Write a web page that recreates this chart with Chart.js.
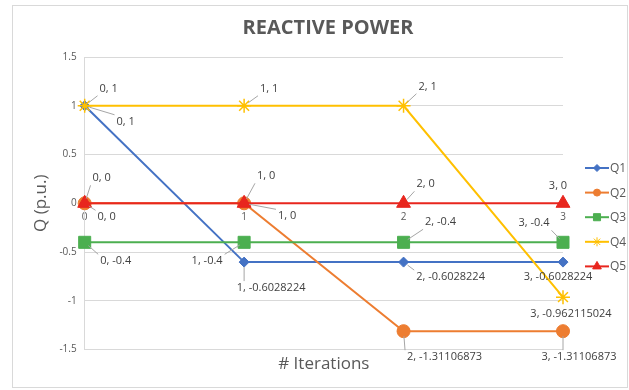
<!DOCTYPE html>
<html>
<head>
<meta charset="utf-8">
<script src="https://cdn.jsdelivr.net/npm/chart.js@4.4.0/dist/chart.umd.min.js"></script>
<style>
  html, body { margin: 0; padding: 0; background: #fff; }
</style>
</head>
<body>
<canvas id="chart" width="629" height="390"></canvas>
<script>
// values
var iterations = [0, 1, 2, 3];
var q1 = [1, -0.6028224, -0.6028224, -0.6028224];
var q2 = [0, 0, -1.31106873, -1.31106873];
var q3 = [-0.4, -0.4, -0.4, -0.4];
var q4 = [1, 1, 1, -0.962115024];
var q5 = [0, 0, 0, 0];
var seriesNames = ['Q1', 'Q2', 'Q3', 'Q4', 'Q5'];
var yTicks = [-1.5, -1, -0.5, 0, 0.5, 1, 1.5];

// styles
var colors = ['#4472C4', '#ED7D31', '#4CAF50', '#FFC000', '#E8261E'];
var markers = ['rectRot', 'circle', 'rect', 'star', 'triangle'];
var markerSize = [5, 6.5, 8.5, 7, 8];
var legendMarkerSize = [3.5, 3.5, 5, 4.5, 5];
// where each data label sits, relative to its point (px)
var labelOffsets = [
  [[41, 16], [27, 26], [47, 15], [-5, 15]],
  [[22, 14], [43, 13], [41, 26], [16, 26]],
  [[31, 19], [-37, 19], [37, -20], [-29, -19]],
  [[24, -17], [25, -17], [24, -19], [8, 17]],
  [[17, -25], [22, -27], [22, -19], [-5, -17]]
];

var seriesValues = [q1, q2, q3, q4, q5];

function makeData(ys) {
  return iterations.map(function (x, i) { return {x: x, y: ys[i]}; });
}

var datasets = seriesValues.map(function (ys, i) {
  return {
    label: seriesNames[i],
    data: makeData(ys),
    xAxisID: 'x',
    yAxisID: 'y',
    borderColor: colors[i],
    backgroundColor: colors[i],
    borderWidth: 2,
    pointStyle: markers[i],
    pointRadius: markerSize[i],
    pointHoverRadius: markerSize[i],
    pointBorderWidth: markers[i] === 'star' ? 1.5 : 1,
    pointBackgroundColor: colors[i],
    pointBorderColor: colors[i],
    tension: 0,
    clip: false,
    order: seriesValues.length - 1 - i
  };
});

var sheetFrame = {
  id: 'sheetFrame',
  beforeDraw: function (chart) {
    var ctx = chart.ctx;
    ctx.save();
    ctx.fillStyle = '#fff';
    ctx.fillRect(0, 0, chart.width, chart.height);
    ctx.strokeStyle = '#D9D9D9';
    ctx.lineWidth = 1;
    ctx.strokeRect(12.5, 5.5, chart.width - 14, chart.height - 8);
    ctx.restore();
  }
};

var pointLabels = {
  id: 'pointLabels',
  afterDatasetsDraw: function (chart) {
    var ctx = chart.ctx;
    ctx.save();
    ctx.font = '11px "Open Sans"';
    ctx.textAlign = 'center';
    ctx.textBaseline = 'middle';
    chart.data.datasets.forEach(function (ds, di) {
      var meta = chart.getDatasetMeta(di);
      meta.data.forEach(function (pt, i) {
        var raw = ds.data[i];
        var text = raw.x + ', ' + raw.y;
        var off = labelOffsets[di][i];
        var cx = pt.x + off[0], cy = pt.y + off[1];
        var w = ctx.measureText(text).width;
        var l = cx - w / 2 - 2, r = cx + w / 2 + 2, t = cy - 7, b = cy + 7;
        var nx = Math.max(l, Math.min(pt.x, r));
        var ny = Math.max(t, Math.min(pt.y, b));
        var dx = nx - pt.x, dy = ny - pt.y;
        var d = Math.sqrt(dx * dx + dy * dy);
        if (d > 10) {
          ctx.strokeStyle = '#A6A6A6';
          ctx.lineWidth = 1;
          ctx.beginPath();
          ctx.moveTo(pt.x + dx / d * 5, pt.y + dy / d * 5);
          ctx.lineTo(nx, ny);
          ctx.stroke();
        }
        ctx.fillStyle = '#404040';
        ctx.fillText(text, cx, cy);
      });
    });
    ctx.restore();
  }
};

var sideLegend = {
  id: 'sideLegend',
  afterDraw: function (chart) {
    var ctx = chart.ctx;
    ctx.save();
    ctx.font = '12px "Open Sans"';
    ctx.textAlign = 'left';
    ctx.textBaseline = 'middle';
    chart.data.datasets.forEach(function (ds, i) {
      var y = 168 + i * 24.6;
      ctx.strokeStyle = colors[i];
      ctx.fillStyle = colors[i];
      ctx.lineWidth = 2;
      ctx.beginPath();
      ctx.moveTo(585, y);
      ctx.lineTo(609, y);
      ctx.stroke();
      ctx.lineWidth = 1;
      Chart.helpers.drawPoint(ctx, {
        pointStyle: markers[i],
        radius: legendMarkerSize[i],
        rotation: 0,
        borderWidth: 1
      }, 597, y);
      ctx.fillStyle = '#595959';
      ctx.fillText(ds.label, 610, y + 0.5);
    });
    ctx.restore();
  }
};

var ctx = document.getElementById('chart').getContext('2d');
var chart = new Chart(ctx, {
  type: 'line',
  data: {datasets: datasets},
  plugins: [sheetFrame, pointLabels, sideLegend],
  options: {
    responsive: false,
    animation: false,
    devicePixelRatio: 1,
    layout: {
      padding: {left: 27, right: 0, top: 0, bottom: 12}
    },
    scales: {
      x: {
        type: 'linear',
        axis: 'x',
        position: {y: 0},
        min: 0,
        max: 3,
        afterBuildTicks: function (scale) {
          scale.ticks = iterations.map(function (v) { return {value: v}; });
        },
        grid: {display: false, drawTicks: false},
        border: {display: false},
        ticks: {
          padding: 8,
          color: '#595959',
          font: {family: 'Open Sans', size: 10},
          maxRotation: 0
        }
      },
      xTitle: {
        type: 'linear',
        axis: 'x',
        position: 'bottom',
        min: 0,
        max: 3,
        grid: {display: false, drawTicks: false},
        border: {display: false},
        ticks: {display: false},
        title: {
          display: true,
          text: '# Iterations',
          color: '#595959',
          font: {family: 'Open Sans', size: 17},
          padding: {top: 4, bottom: 4}
        }
      },
      y: {
        type: 'linear',
        min: -1.5,
        max: 1.5,
        afterBuildTicks: function (scale) {
          scale.ticks = yTicks.map(function (v) { return {value: v}; });
        },
        grid: {color: '#D9D9D9', drawTicks: false},
        border: {display: true, color: '#D9D9D9'},
        ticks: {
          padding: 8,
          color: '#595959',
          font: {family: 'Open Sans', size: 10},
          callback: function (v) { return String(v); }
        },
        title: {
          display: true,
          text: 'Q (p.u.)',
          color: '#595959',
          font: {family: 'Open Sans', size: 17},
          padding: {top: 4, bottom: 0}
        }
      },
      // empty strip on the right that holds the legend
      legendSpace: {
        type: 'linear',
        axis: 'y',
        position: 'right',
        grid: {display: false, drawTicks: false},
        border: {display: false},
        ticks: {display: false},
        afterFit: function (scale) { scale.width = 66; }
      }
    },
    plugins: {
      legend: {display: false},
      tooltip: {enabled: false},
      title: {
        display: true,
        text: 'REACTIVE POWER',
        color: '#595959',
        font: {family: 'Open Sans', size: 20, weight: 'bold'},
        padding: {top: 16, bottom: 17}
      }
    }
  }
});
</script>
</body>
</html>
